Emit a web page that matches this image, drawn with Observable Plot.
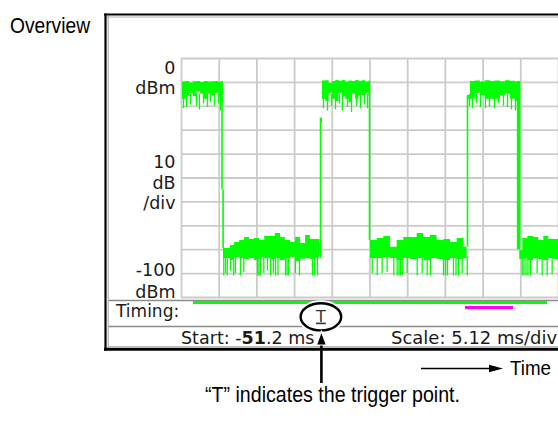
<!DOCTYPE html>
<html><head><meta charset="utf-8">
<script src="https://cdn.jsdelivr.net/npm/d3@7"></script>
<script src="https://cdn.jsdelivr.net/npm/@observablehq/plot@0.6"></script>
<style>
html,body{margin:0;padding:0;background:#fff;}
#chart svg{display:block;}
</style>
</head><body><div id="chart"></div>
<script>
// ---- display settings ----
const startMs = -51.2;
const scaleMs = 5.12;
const refLevel = 0;      // dBm, top of graticule
const dbPerDiv = 10;

// graticule
const gridX = [-51.2, -46.08, -40.96, -35.84, -30.72, -25.6, -20.48, -15.36, -10.24, -5.12, 0];
const gridY = [0, -10, -20, -30, -40, -50, -60, -70, -80, -90, -100];

// level labels
const levelText = ["0\ndBm", "10\ndB\n/div", "-100\ndBm"];
const levelValue = [0, -52, -100];

// ---- trace: pulse-on segments (ms, dBm) ----
const highSeg = [1,1,1,1,1,1,1,1,1,1,1,1,1, 2,2,2,2,2,2,2,2,2,2,2,2,2,2,2,2,2, 3,3,3,3,3,3,3,3,3,3,3,3,3];
const highTime = [-51.06,-50.6,-50.1,-49.6,-49.1,-48.6,-48.1,-47.6,-47.1,-46.6,-46.1,-45.75,-45.55,
  -32.32,-32.05,-31.6,-31.15,-30.7,-30.25,-29.8,-29.35,-28.9,-28.45,-28.0,-27.55,-27.1,-26.65,-26.2,-25.75,-25.6,
  -12.36,-11.95,-11.3,-10.6,-9.95,-9.25,-8.6,-7.9,-7.2,-6.55,-5.85,-5.57,-5.26];
const highTop = [-9.8,-9.6,-10.2,-9.7,-9.6,-10.0,-9.6,-9.8,-9.7,-9.6,-9.9,-9.6,-9.6,
  -25.0,-9.4,-9.3,-10.5,-9.6,-9.2,-9.5,-9.2,-9.8,-9.4,-9.6,-9.2,-9.6,-9.3,-9.8,-9.4,-9.4,
  -15.5,-9.6,-9.4,-9.8,-9.3,-9.6,-9.4,-9.7,-9.3,-9.5,-9.8,-9.6,-9.6];
const highBottom = [-17,-15.5,-14.5,-16,-14,-15,-17,-15,-15.5,-14.5,-16,-18,-18,
  -27,-17,-18,-14.5,-17,-18,-14.5,-16,-17,-18.5,-15,-17,-15.5,-15.5,-14.5,-16,-16,
  -17,-17,-14.5,-15.5,-17,-17,-17,-15.5,-15,-17,-18,-18,-18];
// dips below the pulse top
const highSpikeTime = [-50.93,-50.52,-49.98,-49.16,-48.76,-48.21,-47.67,-47.26,-46.72,-46.18,-45.9,
  -31.92,-31.37,-30.83,-30.29,-29.74,-29.34,-28.66,-28.11,-27.44,-26.89,-26.35,-25.94,
  -12.09,-11.68,-11.14,-10.6,-9.92,-9.38,-8.7,-8.15,-7.47,-6.93,-6.39,-5.84];
const highSpikeDepth = [-21,-20.5,-19.5,-20,-21.5,-19,-20.5,-18.5,-20,-19,-22,
  -21,-22,-20,-21.5,-19,-22,-20.5,-22.6,-20,-21,-19.5,-21,
  -20,-21,-19,-20.5,-21,-20.5,-21,-19,-20,-20.5,-21.5,-22];

// ---- trace: pulse-off (noise) segments ----
const lowSeg = [1,1,1,1,1,1,1,1,1,1,1,1,1,1,1,1,1,1,1,1, 2,2,2,2,2,2,2,2,2,2,2,2,2,2,2,2, 3,3,3,3,3,3,3,3,3];
const lowTime = [-45.5,-44.55,-44.0,-43.3,-42.65,-41.95,-41.3,-40.6,-39.9,-39.1,-38.45,-37.75,-37.1,-36.4,-35.7,-35.05,-34.35,-33.7,-33.0,-32.4,
  -25.53,-24.62,-23.73,-22.82,-21.91,-21.01,-20.1,-19.19,-18.29,-17.39,-16.48,-15.58,-14.67,-13.76,-12.86,-12.4,
  -5.26,-4.85,-4.17,-3.36,-2.68,-2.0,-1.32,-0.64,0];
const lowTop = [-79.5,-78.2,-77.0,-76.2,-74.9,-75.7,-75.3,-76.2,-74.5,-74.5,-73.2,-74.9,-76.2,-77.0,-74.9,-77.4,-74.1,-75.7,-75.7,-75.7,
  -76.2,-75.3,-74.5,-79.0,-76.2,-74.9,-74.9,-73.2,-74.9,-74.1,-76.2,-75.7,-77.0,-75.3,-79.0,-79.0,
  -80.3,-75.3,-74.5,-74.9,-76.2,-74.5,-75.7,-75.7,-75.7];
const lowBottom = [-83.7,-84.5,-83.3,-83.7,-84.1,-83.7,-84.5,-83.3,-83.7,-84.1,-83.7,-84.5,-83.7,-83.3,-85.0,-84.0,-83.7,-84.1,-83.5,-83.5,
  -83.7,-83.7,-83.3,-83.7,-84.5,-83.7,-84.1,-83.7,-84.5,-83.7,-84.1,-84.5,-83.7,-84.1,-83.7,-83.7,
  -84.1,-83.7,-84.5,-83.7,-84.1,-84.5,-83.7,-84.1,-84.1];
// downward noise spikes
const lowSpikeTime = [-45.46,-45.22,-44.99,-44.55,-44.10,-43.87,-43.19,-42.74,-40.88,-40.68,-40.47,-40.02,-39.52,-39.11,-38.71,-38.43,-38.10,-37.08,-36.87,-36.67,-35.72,-35.18,-33.41,-33.14,-32.73,
  -25.30,-24.62,-23.95,-23.27,-22.37,-21.91,-21.66,-21.46,-21.23,-20.55,-19.19,-18.51,-17.83,-17.39,-15.62,-15.35,-15.08,-14.26,-13.92,-13.58,-13.08,-12.40,
  -4.93,-4.69,-4.42,-4.15,-3.81,-2.90,-2.22,-1.54,-0.86];
const lowSpikeDepth = [-91,-90,-91,-89,-91,-90,-91,-89.5,-91,-91,-91,-90,-89,-91,-90,-91,-91,-91,-91,-91,-90,-91,-91,-91,-91,
  -90,-91,-90,-89.5,-91,-91,-91,-91,-91,-90,-91,-90,-91,-91,-91,-91,-91,-91,-91,-91,-90,-91,
  -91,-91,-91,-91,-91,-90,-91,-91,-90.5];

// ---- rising / falling edges ----
const edgeTime = [-45.7,-45.55,-32.32,-25.67,-12.36,-5.55,-5.4,-5.28];
const edgeHigh = [-9.6,-55,-25,-9.6,-15.5,-9.6,-9.6,-9.6];
const edgeLow  = [-55,-79.5,-83.7,-76.2,-79,-80,-80,-80];

// ---- timing row ----
const spanStart = [-49.57, -12.63];   // acquisition span, analysis span
const spanEnd   = [-1.5, -6.1];
const triggerTime = -32.2;

const green = "#00ff00";
const gridColor = "#cbcbcb";
const uiFont = "DejaVu Sans";
const capFont = "'Liberation Sans Narrow','Liberation Sans',Arial,sans-serif";

const chart = Plot.plot({
  width: 558, height: 425,
  marginLeft: 181, marginRight: 0, marginTop: 58, marginBottom: 128,
  x: {domain: [startMs, startMs + 10 * scaleMs], axis: null},
  y: {domain: [refLevel - 10 * dbPerDiv, refLevel], axis: null},
  style: {fontFamily: uiFont, fontSize: "17.5px", background: "#fff", overflow: "visible"},
  marks: [
    Plot.ruleX(gridX, {stroke: gridColor, strokeWidth: 1.8}),
    Plot.ruleY(gridY, {stroke: gridColor, strokeWidth: 1.8}),
    Plot.areaY(highTime, {x: highTime, y1: highBottom, y2: highTop, z: highSeg, curve: "step-after", fill: green}),
    Plot.ruleX(highSpikeTime, {x: highSpikeTime, y1: -15, y2: highSpikeDepth, stroke: green, strokeWidth: 1.3}),
    Plot.areaY(lowTime, {x: lowTime, y1: lowBottom, y2: lowTop, z: lowSeg, curve: "step-after", fill: green}),
    Plot.ruleX(lowSpikeTime, {x: lowSpikeTime, y1: -83, y2: lowSpikeDepth, stroke: green, strokeWidth: 1.3}),
    Plot.ruleX(edgeTime, {x: edgeTime, y1: edgeLow, y2: edgeHigh, stroke: green, strokeWidth: 1.6}),
    Plot.text([levelText[0]], {frameAnchor: "left", y: levelValue[0], text: d => d, textAnchor: "end", lineAnchor: "top", dx: -6, dy: 1, lineHeight: 1.15, fill: "#1a1a1a"}),
    Plot.text([levelText[1]], {frameAnchor: "left", y: levelValue[1], text: d => d, textAnchor: "end", lineAnchor: "middle", dx: -6, dy: -1, lineHeight: 1.2, fill: "#1a1a1a"}),
    Plot.text([levelText[2]], {frameAnchor: "left", y: levelValue[2], text: d => d, textAnchor: "end", lineAnchor: "bottom", dx: -6, dy: 0, lineHeight: 1.22, fill: "#1a1a1a"})
  ]
});
document.getElementById("chart").appendChild(chart);

const X = chart.scale("x");
const sx = v => X.apply(v);
const svg = d3.select(chart);
const g = svg.append("g").attr("text-anchor", "start");

// window frame
function hline(y, x1, x2, color, w) {
  g.append("line").attr("x1", x1).attr("x2", x2).attr("y1", y).attr("y2", y).attr("stroke", color).attr("stroke-width", w);
}
function vline(x, y1, y2, color, w) {
  g.append("line").attr("x1", x).attr("x2", x).attr("y1", y1).attr("y2", y2).attr("stroke", color).attr("stroke-width", w);
}
hline(14.5, 104, 560, "#000", 2.2);
hline(17, 107, 560, "#b0b0b0", 1.2);
vline(105.5, 13.5, 350.5, "#000", 2.2);
vline(108.2, 16, 348, "#b0b0b0", 1.2);
hline(349.3, 104, 560, "#000", 3);
hline(346.5, 108, 560, "#b8b8b8", 1);
hline(300.5, 108.5, 560, "#8c8c8c", 1.3);
hline(326.5, 108.5, 560, "#8c8c8c", 1.3);

// timing row: acquisition span (green) and analysis span (magenta)
hline(302.6, sx(spanStart[0]), sx(spanEnd[0]), green, 3);
hline(307.4, sx(spanStart[1]), sx(spanEnd[1]), "#ff00ff", 3);

g.append("text").attr("x", 116).attr("y", 311).attr("dy", "0.35em").attr("text-anchor", "start")
  .attr("font-family", uiFont).attr("font-size", 17).attr("fill", "#1a1a1a").text("Timing:");

const st = g.append("text").attr("x", 181).attr("y", 338).attr("dy", "0.35em").attr("text-anchor", "start")
  .attr("font-family", uiFont).attr("font-size", 17.5).attr("fill", "#1a1a1a");
const startStr = String(startMs);
st.append("tspan").text("Start: -");
st.append("tspan").attr("font-weight", "bold").text(startStr.slice(1, 3));
st.append("tspan").text(startStr.slice(3) + " ms");

g.append("text").attr("x", 391).attr("y", 338).attr("dy", "0.35em").attr("text-anchor", "start")
  .attr("font-family", uiFont).attr("font-size", 18).attr("fill", "#1a1a1a")
  .text("Scale: " + scaleMs.toFixed(2) + " ms/div");

// trigger marker
const tx = sx(triggerTime);
g.append("ellipse").attr("cx", tx).attr("cy", 316.8).attr("rx", 20.3).attr("ry", 13.6)
  .attr("fill", "#fff").attr("stroke", "#fff").attr("stroke-width", 6);
g.append("ellipse").attr("cx", tx).attr("cy", 316.8).attr("rx", 20.3).attr("ry", 13.6)
  .attr("fill", "#fff").attr("stroke", "#000").attr("stroke-width", 2.4);
g.append("text").attr("x", tx).attr("y", 316).attr("dy", "0.35em").attr("text-anchor", "middle")
  .attr("font-family", uiFont).attr("font-size", 16).attr("fill", "#333")
  .attr("text-decoration", "underline").text("T");

// callout arrow to the trigger
g.append("line").attr("x1", tx + 0.5).attr("x2", tx + 0.5).attr("y1", 342).attr("y2", 383)
  .attr("stroke", "#000").attr("stroke-width", 2.6);
g.append("path").attr("d", `M${tx + 0.5},331.5 L${tx - 4.5},345 L${tx + 5.5},345 Z`)
  .attr("fill", "#000").attr("stroke", "#fff").attr("stroke-width", 1.2);

// time direction arrow
g.append("line").attr("x1", 421).attr("x2", 495).attr("y1", 368.5).attr("y2", 368.5)
  .attr("stroke", "#000").attr("stroke-width", 1.3);
g.append("path").attr("d", "M503,368.5 L489,364.8 L489,372.2 Z").attr("fill", "#000");
g.append("text").attr("x", 510).attr("y", 368).attr("dy", "0.35em").attr("text-anchor", "start")
  .attr("font-family", capFont).attr("font-size", 21).attr("fill", "#000")
  .attr("textLength", 41).attr("lengthAdjust", "spacingAndGlyphs").text("Time");

// titles
g.append("text").attr("x", 10).attr("y", 25).attr("dy", "0.35em").attr("text-anchor", "start")
  .attr("font-family", capFont).attr("font-size", 22).attr("fill", "#000")
  .attr("textLength", 80).attr("lengthAdjust", "spacingAndGlyphs").text("Overview");
g.append("text").attr("x", 205).attr("y", 394).attr("dy", "0.35em").attr("text-anchor", "start")
  .attr("font-family", capFont).attr("font-size", 22).attr("fill", "#000")
  .attr("textLength", 255).attr("lengthAdjust", "spacingAndGlyphs")
  .text("\u201CT\u201D indicates the trigger point.");
</script>
</body></html>
